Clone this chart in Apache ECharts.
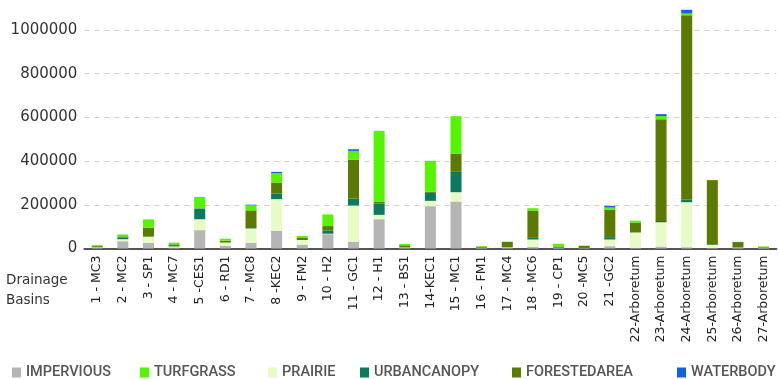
<!DOCTYPE html>
<html>
<head>
<meta charset="utf-8">
<script src="https://cdn.jsdelivr.net/npm/echarts@6/dist/echarts.min.js"></script>
<style>html,body{margin:0;padding:0;background:#fff}#c{width:779px;height:379px}</style>
</head>
<body>
<div id="c"></div>
<script>
var categories = ["1 - MC3","2 - MC2","3 - SP1","4 - MC7","5 -CES1","6 - RD1","7 - MC8","8 -KEC2","9 - FM2","10 - H2","11 - GC1","12 - H1","13 - BS1","14-KEC1","15 - MC1","16 - FM1","17 - MC4","18 - MC6","19 - CP1","20 -MC5","21 -GC2","22-Arboretum","23-Arboretum","24-Arboretum","25-Arboretum","26-Arboretum","27-Arboretum"];
var impervious  = [2000,33500,26000,5000,84000,12000,26000,81000,18000,65600,30500,134000,3000,193700,215000,1000,2000,7600,1000,1000,10700,3000,9000,6000,3000,1000,1000];
var prairie     = [3000,9000,27500,4000,50000,15000,65600,145000,21000,2000,166000,20000,1500,24400,42700,2000,3000,33500,1500,1000,30500,70000,111000,206000,13000,3000,2000];
var urbancanopy = [1000,7000,2000,1000,49000,1000,2000,26000,4000,15000,32000,52000,1000,36600,93000,3000,1000,7600,1000,500,10700,1000,6000,10700,3000,500,500];
var forested    = [5000,6000,39700,9000,1000,7600,81000,50000,5000,20000,178500,7600,9000,4500,84000,2000,24400,125000,6000,10000,125000,44200,465000,845000,294000,25000,3000];
var turfgrass   = [4000,9000,38000,7600,52000,9000,23000,42700,9000,53400,39700,325000,6000,142000,170900,3000,1000,10700,12200,500,10700,9000,15000,7600,500,1000,3000];
var waterbody   = [0,0,0,0,0,0,3000,6000,0,0,7600,0,0,0,0,0,0,0,0,0,7600,0,9000,17000,0,0,0];
var yTicks = [0,200000,400000,600000,800000,1000000];

var colors = {
  IMPERVIOUS:'#b5b5b5', TURFGRASS:'#55f500', PRAIRIE:'#e6fbc6',
  URBANCANOPY:'#0b7a5e', FORESTEDAREA:'#5b7a02', WATERBODY:'#1062e0'
};
var stackOrder = [
  ['IMPERVIOUS', impervious], ['PRAIRIE', prairie], ['URBANCANOPY', urbancanopy],
  ['FORESTEDAREA', forested], ['TURFGRASS', turfgrass], ['WATERBODY', waterbody]
];
var series = stackOrder.map(function(s){
  return {name:s[0], type:'bar', stack:'total', data:s[1], barWidth:'43%', clip:false,
    itemStyle:{color:colors[s[0]]}, emphasis:{disabled:true}};
});
var legendPos = [['IMPERVIOUS',12],['TURFGRASS',140],['PRAIRIE',268],['URBANCANOPY',360],['FORESTEDAREA',512],['WATERBODY',677]];
var legends = legendPos.map(function(l){
  return {data:[l[0]], left:l[1], top:365, padding:0, icon:'rect', itemWidth:9, itemHeight:10, itemGap:4,
    textStyle:{fontFamily:'Roboto', fontSize:14.5, lineHeight:14, color:'#555', fontWeight:500}, selectedMode:false};
});
var chart = echarts.init(document.getElementById('c'), null, {renderer:'canvas'});
chart.setOption({
  animation:false,
  backgroundColor:'#fff',
  title:{text:'Drainage\nBasins', left:1, top:265, textStyle:{fontFamily:'DejaVu Sans', fontSize:13.5, fontWeight:'normal', color:'#333', lineHeight:20}},
  legend:legends,
  grid:{left:84.4, right:2.6, top:30, bottom:130.5, containLabel:false},
  xAxis:{type:'category', data:categories,
    axisLine:{lineStyle:{color:'#555', width:2}}, axisTick:{show:false},
    axisLabel:{rotate:90, interval:0, margin:7, fontFamily:'DejaVu Sans', fontSize:12.5, color:'#222'}},
  yAxis:{type:'value', min:yTicks[0], max:yTicks[yTicks.length-1], interval:yTicks[1]-yTicks[0],
    axisLine:{show:false}, axisTick:{show:false},
    axisLabel:{margin:7, fontFamily:'DejaVu Sans', fontSize:15, color:'#333', formatter:function(v){return String(v);}},
    splitLine:{lineStyle:{color:'#d0d0d0', type:[5,5], width:1}}},
  series:series
});
</script>
</body>
</html>
